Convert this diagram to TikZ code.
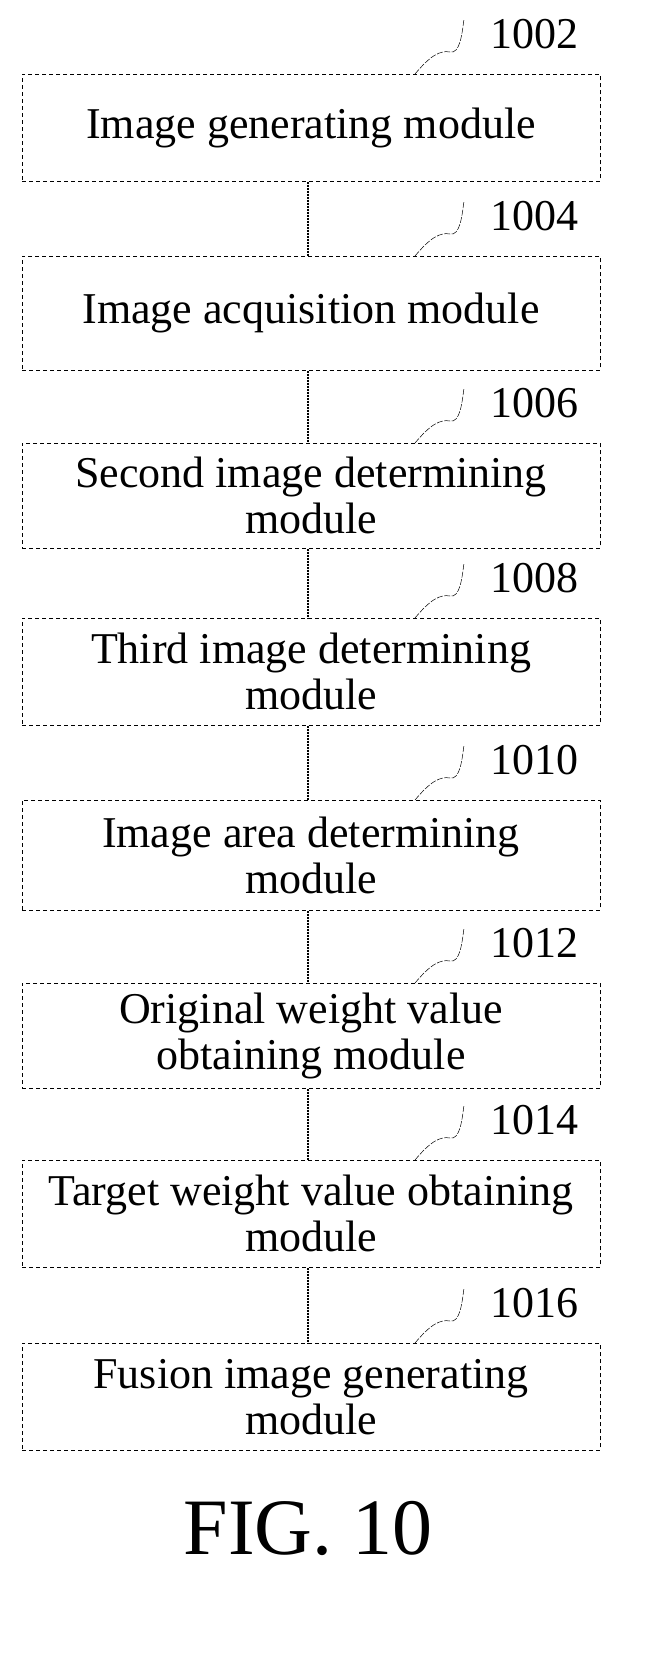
\documentclass[tikz,border=0pt]{standalone}
\usepackage{fontspec}
\setmainfont{Liberation Serif}
\begin{document}
\begin{tikzpicture}[x=1pt,y=-1pt,
  mbox/.style={draw,line width=0.6pt,dash pattern=on 4pt off 3pt,minimum width=578pt,align=center,font=\fontsize{44}{46}\selectfont,inner sep=0pt},
  conn/.style={draw,line width=1.4pt,dash pattern=on 2pt off 1pt},
  sq/.style={draw,line width=0.5pt,dash pattern=on 6pt off 1.5pt},
  lab/.style={font=\fontsize{44}{46}\selectfont,anchor=west}]
\useasboundingbox (0,0) rectangle (657,1663);
\def\boxes{1/74/181/Image generating module/1002,
2/256/370/Image acquisition module/1004,
3/443/548/Second image determining\\module/1006,
4/618/725/Third image determining\\module/1008,
5/800/910/Image area determining\\module/1010,
6/983/1088/Original weight value\\obtaining module/1012,
7/1160/1267/Target weight value obtaining\\module/1014,
8/1343/1450/Fusion image generating\\module/1016}
\foreach \i/\t/\b/\txt/\n in \boxes {
  \node[mbox,minimum height={\b-\t},anchor=north] (b\i) at (311,\t) {\txt};
  \coordinate (s\i) at (415,\t);
  \coordinate (e\i) at (464,{\t-55});
  \draw[sq] (s\i) .. controls (430,{\t-18}) and (440,{\t-24}) .. (450,{\t-22}) .. controls (460,{\t-20}) and (462,{\t-40}) .. (e\i);
  \node[lab] (n\i) at (487,{\t-40}) {\n};
}
\foreach \a/\c in {1/2,2/3,3/4,4/5,5/6,6/7,7/8}
  \draw[conn] (b\a.south -| 308,0) -- (b\c.north -| 308,0);
\node[font=\fontsize{80}{80}\selectfont] (fig) at (308,1528) {FIG. 10};
\end{tikzpicture}
\end{document}
